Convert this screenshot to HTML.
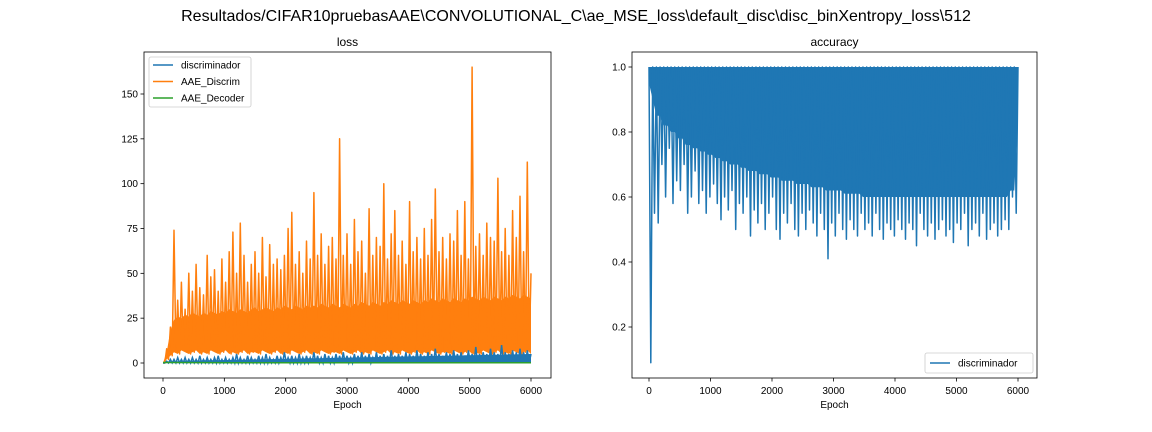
<!DOCTYPE html>
<html><head><meta charset="utf-8"><style>
html,body{margin:0;padding:0;background:#fff}
svg{display:block;font-family:"Liberation Sans","DejaVu Sans",sans-serif}
</style></head><body>
<svg id="fig" width="1152" height="432" viewBox="0 0 1152 432">
<text x="576" y="21" text-anchor="middle" font-size="16" fill="#000">Resultados/CIFAR10pruebasAAE\CONVOLUTIONAL_C\ae_MSE_loss\default_disc\disc_binXentropy_loss\512</text>
<g id="left"></g>
<g id="right"></g>
</svg>
<script>
const lossXTicks=[0,1000,2000,3000,4000,5000,6000];
const lossYTicks=[0,25,50,75,100,125,150];
const accXTicks=[0,1000,2000,3000,4000,5000,6000];
const accYTicks=[0.2,0.4,0.6,0.8,1.0];
const aaeHigh=[0,8,20,74,35,45,30,50,40,55,42,38,60,48,52,40,58,45,62,73,50,78,60,45,55,62,50,70,48,66,55,58,52,60,75,84,55,62,50,68,58,95,60,72,55,65,70,58,125,60,72,55,80,62,68,50,86,60,70,65,100,58,72,85,60,68,55,90,62,70,58,75,60,80,97,62,70,58,72,68,85,60,90,58,165,65,72,60,78,70,68,103,62,75,60,85,70,93,62,112,50];
const aaeBand=[0,6,18,24,26,25,27,26,28,27,26,28,27,29,28,27,29,28,30,29,28,30,29,28,30,31,29,30,31,30,29,31,30,32,31,30,32,31,30,32,31,32,31,33,32,31,33,32,31,33,32,31,33,32,34,33,32,34,33,32,34,33,35,34,33,35,34,33,35,34,33,35,34,36,35,34,36,35,34,36,35,34,36,35,37,36,35,37,36,35,37,36,35,37,36,38,37,36,38,37,36];
const aaeLow=[0,2,4,6,5,7,6,5,6,7,5,6,5,7,6,5,6,7,5,6,5,6,7,5,6,6,5,7,6,5,6,7,5,6,5,7,6,5,6,7,5,6,5,7,6,5,6,6,5,7,6,5,6,7,5,6,5,7,6,5,6,7,5,6,5,7,6,5,6,7,5,6,5,7,6,5,6,6,5,7,6,5,6,7,5,6,5,7,6,5,6,7,5,6,5,7,6,5,6,7,5];
const discHigh=[0,1,2,2,3,2,3,2,3,2,4,2,3,2,3,4,2,3,2,3,5,3,2,4,3,2,4,3,5,3,2,4,3,6,3,4,3,5,3,4,3,6,4,3,5,4,3,5,4,6,4,3,5,4,6,4,5,3,6,4,5,4,7,4,5,4,6,5,4,7,5,4,6,5,8,5,4,6,5,7,5,6,4,7,5,9,5,6,5,8,6,5,10,6,5,7,6,8,6,7,5];
const discBand=[0,0.5,1,1,1,1.2,1.2,1.3,1.3,1.4,1.4,1.5,1.5,1.5,1.6,1.6,1.6,1.7,1.7,1.8,1.8,1.8,1.9,1.9,2,2,2,2.1,2.1,2.2,2.2,2.2,2.3,2.3,2.4,2.4,2.4,2.5,2.5,2.6,2.6,2.6,2.7,2.7,2.8,2.8,2.8,2.9,2.9,3,3,3,3.1,3.1,3.2,3.2,3.2,3.3,3.3,3.4,3.4,3.4,3.5,3.5,3.6,3.6,3.6,3.7,3.7,3.8,3.8,3.8,3.9,3.9,4,4,4,4.1,4.1,4.2,4.2,4.2,4.3,4.3,4.4,4.4,4.4,4.5,4.5,4.6,4.6,4.6,4.7,4.7,4.8,4.8,4.8,4.9,4.9,5,5];
const discLow=[0,0,0,0,0,0,0,0,0,0,0,0,0,0,0,0,0,0,0,0,0,0,0,0,0,0,0,0,0,0,0,0,0,0,0,0,0,0,0,0,0,0,0,0,0,0,0,0,0,0,0,0,0,0,0,0,0,0,0,0,0,0,0,0,0,0,0,0,0,0,0,0,0,0,0,0,0,0,0,0,0,0,0,0,0,0,0,0,0,0,0,0,0,0,0,0,0,0,0,0,0];
const decoder=[0.3,0.2,0.1,0.1,0.1,0.1,0.1,0.1,0.1,0.1,0.1];
const accHigh=[1,1,1,1,1,1,1,1,1,1,1,1,1,1,1,1,1,1,1,1,1,1,1,1,1,1,1,1,1,1,1,1,1,1,1,1,1,1,1,1,1,1,1,1,1,1,1,1,1,1,1,1,1,1,1,1,1,1,1,1,1,1,1,1,1,1,1,1,1,1,1,1,1,1,1,1,1,1,1,1,1,1,1,1,1,1,1,1,1,1,1,1,1,1,1,1,1,1,1,1,1];
const accBand=[0.95,0.9,0.85,0.85,0.82,0.82,0.8,0.8,0.78,0.78,0.76,0.76,0.75,0.75,0.74,0.74,0.73,0.73,0.72,0.72,0.71,0.71,0.7,0.7,0.7,0.69,0.69,0.68,0.68,0.68,0.67,0.67,0.67,0.66,0.66,0.66,0.65,0.65,0.65,0.65,0.64,0.64,0.64,0.64,0.63,0.63,0.63,0.63,0.62,0.62,0.62,0.62,0.62,0.61,0.61,0.61,0.61,0.61,0.6,0.6,0.6,0.6,0.6,0.6,0.6,0.6,0.6,0.6,0.6,0.6,0.6,0.6,0.6,0.6,0.6,0.6,0.6,0.6,0.6,0.6,0.6,0.6,0.6,0.6,0.6,0.6,0.6,0.6,0.6,0.6,0.6,0.6,0.6,0.6,0.6,0.6,0.6,0.6,0.62,0.62,0.85];
const accLow=[0.09,0.55,0.52,0.7,0.6,0.75,0.58,0.65,0.62,0.7,0.55,0.6,0.68,0.58,0.62,0.55,0.6,0.64,0.58,0.53,0.6,0.56,0.62,0.5,0.58,0.55,0.6,0.48,0.56,0.52,0.58,0.5,0.55,0.6,0.5,0.47,0.55,0.52,0.58,0.5,0.48,0.55,0.5,0.56,0.52,0.48,0.55,0.5,0.41,0.52,0.48,0.55,0.5,0.47,0.53,0.5,0.48,0.55,0.5,0.52,0.48,0.55,0.5,0.47,0.52,0.5,0.48,0.53,0.5,0.47,0.52,0.5,0.45,0.55,0.5,0.48,0.52,0.47,0.5,0.53,0.48,0.5,0.46,0.52,0.5,0.55,0.45,0.5,0.52,0.48,0.55,0.47,0.5,0.52,0.48,0.5,0.53,0.5,0.6,0.55,0.85];

const NS='http://www.w3.org/2000/svg';
function mk(tag,attrs,parent){const e=document.createElementNS(NS,tag);for(const k in attrs)e.setAttribute(k,attrs[k]);parent.appendChild(e);return e;}

function axes(g,box,xs,ys,xt,yt,title,yfmt){
  mk('rect',{x:box.l,y:box.t,width:box.r-box.l,height:box.b-box.t,fill:'#fff'},g);
  const tt=mk('text',{x:(box.l+box.r)/2,y:box.t-6,'text-anchor':'middle','font-size':12},g);tt.textContent=title;
  
  
  xt.forEach(v=>{const x=xs(v);mk('line',{x1:x,x2:x,y1:box.b,y2:box.b+3.5,stroke:'#000','stroke-width':0.8},g);
    const t=mk('text',{x:x,y:box.b+16,'text-anchor':'middle','font-size':10},g);t.textContent=v;
    
    });
  yt.forEach(v=>{const y=ys(v);mk('line',{x1:box.l-3.5,x2:box.l,y1:y,y2:y,stroke:'#000','stroke-width':0.8},g);
    const t=mk('text',{x:box.l-6,y:y+3.5,'text-anchor':'end','font-size':10},g);t.textContent=yfmt(v);
    
    });
  const xl=mk('text',{x:(box.l+box.r)/2,y:box.b+30,'text-anchor':'middle','font-size':10},g);xl.textContent='Epoch';
  
  
}
function frame(g,box){mk('rect',{x:box.l,y:box.t,width:box.r-box.l,height:box.b-box.t,fill:'none',stroke:'#000','stroke-width':0.8},g);}
function zig(hi,lo,xs,ys){const n=hi.length;let d='';const st=6000/(n-1);
  for(let i=0;i<n;i++){const e=i*st;d+=(i?'L':'M')+xs(e).toFixed(1)+','+ys(hi[i]).toFixed(1);
    if(i<n-1){d+='L'+xs(e+st/2).toFixed(1)+','+ys(lo[i]).toFixed(1);}}return d;}
function area(top,bot,xs,ys){const n=top.length,st=6000/(n-1);let d='';
  for(let i=0;i<n;i++)d+=(i?'L':'M')+xs(i*st).toFixed(1)+','+ys(top[i]).toFixed(1);
  for(let i=n-1;i>=0;i--)d+='L'+xs(i*st).toFixed(1)+','+ys(bot[i]).toFixed(1);return d+'Z';}
function line(v,xs,ys){const st=6000/(v.length-1);return v.map((y,i)=>(i?'L':'M')+xs(i*st).toFixed(1)+','+ys(y).toFixed(1)).join('');}

// left
const L=document.getElementById('left');
const bl={l:144,r:551,t:52,b:378};
const lx=v=>163+v*(531-163)/6000, ly=v=>363-v*(363-94)/150;
axes(L,bl,lx,ly,lossXTicks,lossYTicks,'loss',v=>v);
let p=mk('path',{d:area(aaeBand,aaeLow,lx,ly),fill:'#ff7f0e',stroke:'none'},L);


p=mk('path',{d:zig(aaeHigh,aaeLow,lx,ly),fill:'none',stroke:'#ff7f0e','stroke-width':1.5,'stroke-linejoin':'round'},L);


p=mk('path',{d:area(discBand,discLow,lx,ly),fill:'#1f77b4',stroke:'none'},L);


p=mk('path',{d:zig(discHigh,discLow,lx,ly),fill:'none',stroke:'#1f77b4','stroke-width':1.5},L);


p=mk('path',{d:line(decoder,lx,ly),fill:'none',stroke:'#2ca02c','stroke-width':1.5},L);


frame(L,bl);
const lg=mk('g',{},L);


mk('rect',{x:149,y:57,width:102,height:50,rx:2,fill:'#fff',stroke:'#ccc','stroke-width':0.8},lg);
[['discriminador','#1f77b4'],['AAE_Discrim','#ff7f0e'],['AAE_Decoder','#2ca02c']].forEach((s,i)=>{
  const y=65+i*16.5;mk('line',{x1:153,x2:173,y1:y,y2:y,stroke:s[1],'stroke-width':1.5},lg);
  const t=mk('text',{x:181,y:y+3.5,'font-size':10},lg);t.textContent=s[0];
  
  });

// right
const R=document.getElementById('right');
const br={l:632,r:1037,t:52,b:378};
const rx=v=>649+v*(1018-649)/6000, ry=v=>67-(v-1)*(327-67)/0.8;
axes(R,br,rx,ry,accXTicks,accYTicks,'accuracy',v=>v.toFixed(1));
p=mk('path',{d:area(accHigh,accBand,rx,ry),fill:'#1f77b4',stroke:'none'},R);


p=mk('path',{d:zig(accHigh,accLow,rx,ry),fill:'none',stroke:'#1f77b4','stroke-width':1.5,'stroke-linejoin':'round'},R);


frame(R,br);
const rg=mk('g',{},R);


mk('rect',{x:925,y:353,width:108,height:20,rx:2,fill:'#fff',stroke:'#ccc','stroke-width':0.8},rg);
mk('line',{x1:930,x2:950,y1:363,y2:363,stroke:'#1f77b4','stroke-width':1.5},rg);
const rt=mk('text',{x:958,y:366.5,'font-size':10},rg);rt.textContent='discriminador';


</script>
</body></html>
